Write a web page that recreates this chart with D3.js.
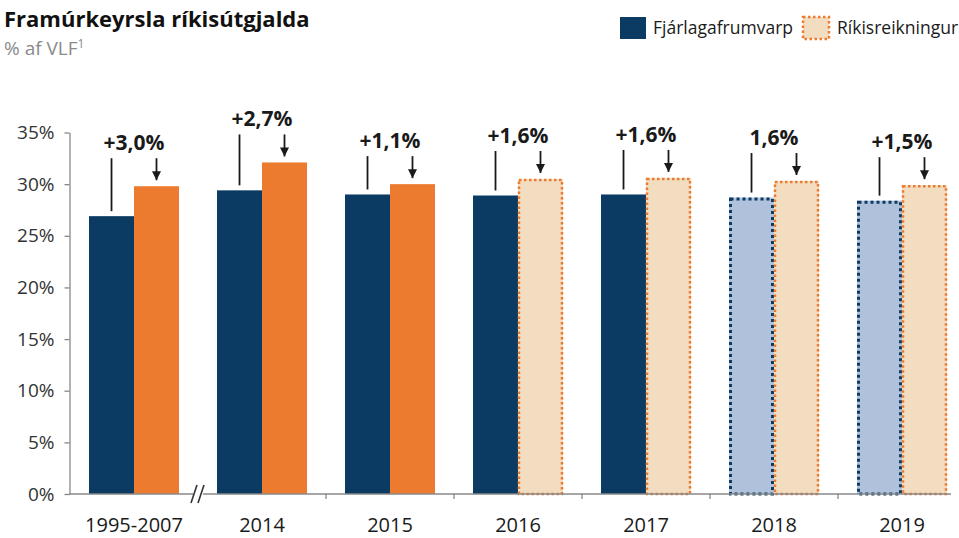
<!DOCTYPE html>
<html>
<head>
<meta charset="utf-8">
<script src="https://cdn.jsdelivr.net/npm/d3@7"></script>
<style>
  body { margin: 0; background: #fff; }
  svg { font-family: "Open Sans", sans-serif; }
</style>
</head>
<body>
<div id="chart"></div>
<script>
// data
var categories = ["1995-2007", "2014", "2015", "2016", "2017", "2018", "2019"];
var budget = [26.9, 29.4, 29.0, 28.9, 29.0, 28.7, 28.4];   // Fjárlagafrumvarp
var actual = [29.8, 32.1, 30.0, 30.5, 30.6, 30.3, 29.9];   // Ríkisreikningur
var budgetFinal = [true, true, true, true, true, false, false];
var actualFinal = [true, true, true, false, false, false, false];
var diffLabels = ["+3,0%", "+2,7%", "+1,1%", "+1,6%", "+1,6%", "1,6%", "+1,5%"];
var yTicks = [0, 5, 10, 15, 20, 25, 30, 35];

var svgWidth = 959;
var svgHeight = 538;

var navy = "#0b3b63";
var orange = "#ec7b2f";
var beige = "#f3ddc1";
var lightBlue = "#afc1db";

var svg = d3.select("#chart")
    .append("svg")
    .attr("width", svgWidth)
    .attr("height", svgHeight);

var rows = categories.map(function(c, i) {
    return { cat: c, budget: budget[i], actual: actual[i],
             budgetFinal: budgetFinal[i], actualFinal: actualFinal[i], label: diffLabels[i] };
});

var x = d3.scaleBand()
    .domain(categories)
    .range([70, 966])
    .paddingInner(0.297)
    .paddingOuter(0.1485);

var xSub = d3.scaleBand()
    .domain(["budget", "actual"])
    .range([0, x.bandwidth()]);

var y = d3.scaleLinear()
    .domain([0, 35])
    .range([494, 132.5]);

var gap = x.step() * x.paddingInner() / 2;

// y axis
var leftAxis = d3.axisLeft(y)
    .tickValues(yTicks)
    .tickFormat(function(d) { return d + "%"; })
    .tickSize(5)
    .tickSizeOuter(0)
    .tickPadding(10);

var yAxisG = svg.append("g")
    .attr("transform", "translate(69.5, 0)")
    .call(leftAxis);
yAxisG.select(".domain").attr("stroke", "#888").attr("stroke-width", 1.3);
yAxisG.selectAll(".tick line").attr("stroke", "#888").attr("stroke-width", 1.3);
yAxisG.selectAll(".tick text")
    .attr("fill", "#333")
    .attr("font-size", "19px")
    .attr("font-family", "Open Sans, sans-serif");

// bars
var groups = svg.selectAll(".grp")
    .data(rows)
    .enter()
    .append("g")
    .attr("class", "grp")
    .attr("transform", function(d) { return "translate(" + x(d.cat) + ",0)"; });

groups.append("rect")
    .attr("x", xSub("budget"))
    .attr("y", function(d) { return y(d.budget); })
    .attr("width", xSub.bandwidth())
    .attr("height", function(d) { return y(0) - y(d.budget); })
    .attr("fill", function(d) { return d.budgetFinal ? navy : lightBlue; });

groups.filter(function(d) { return !d.budgetFinal; })
    .append("rect")
    .attr("x", xSub("budget") + 1.5)
    .attr("y", function(d) { return y(d.budget) + 1.5; })
    .attr("width", xSub.bandwidth() - 3)
    .attr("height", function(d) { return y(0) - y(d.budget) - 1.5; })
    .attr("fill", "none")
    .attr("stroke", navy)
    .attr("stroke-width", 3)
    .attr("stroke-dasharray", "3,3");

groups.append("rect")
    .attr("x", xSub("actual"))
    .attr("y", function(d) { return y(d.actual); })
    .attr("width", xSub.bandwidth())
    .attr("height", function(d) { return y(0) - y(d.actual); })
    .attr("fill", function(d) { return d.actualFinal ? orange : beige; });

groups.filter(function(d) { return !d.actualFinal; })
    .append("rect")
    .attr("x", xSub("actual") + 1)
    .attr("y", function(d) { return y(d.actual) + 1; })
    .attr("width", xSub.bandwidth() - 2)
    .attr("height", function(d) { return y(0) - y(d.actual) - 1; })
    .attr("fill", "none")
    .attr("stroke", orange)
    .attr("stroke-width", 2.5)
    .attr("stroke-dasharray", "2.5,2.5");

// annotations
svg.append("defs").append("marker")
    .attr("id", "arrow")
    .attr("viewBox", "0 0 10 10")
    .attr("refX", 10)
    .attr("refY", 5)
    .attr("markerWidth", 10)
    .attr("markerHeight", 9)
    .attr("markerUnits", "userSpaceOnUse")
    .attr("orient", "auto")
    .append("path")
    .attr("d", "M0,0 L10,5 L0,10 Z")
    .attr("fill", "#1a1a1a");

var budgetMid = xSub("budget") + xSub.bandwidth() / 2;
var actualMid = xSub("actual") + xSub.bandwidth() / 2;

groups.append("line")
    .attr("x1", budgetMid)
    .attr("x2", budgetMid)
    .attr("y1", function(d) { return y(d.actual) - 28; })
    .attr("y2", function(d) { return y(d.budget) - 5; })
    .attr("stroke", "#1a1a1a")
    .attr("stroke-width", 1.8);

groups.append("line")
    .attr("x1", actualMid)
    .attr("x2", actualMid)
    .attr("y1", function(d) { return y(d.actual) - 28; })
    .attr("y2", function(d) { return y(d.actual) - 6; })
    .attr("stroke", "#1a1a1a")
    .attr("stroke-width", 1.8)
    .attr("marker-end", "url(#arrow)");

groups.append("text")
    .attr("x", x.bandwidth() / 2)
    .attr("y", function(d) { return y(d.actual) - 36; })
    .attr("text-anchor", "middle")
    .attr("font-size", "21px")
    .attr("font-weight", "bold")
    .attr("fill", "#1a1a1a")
    .text(function(d) { return d.label; });

// x axis
var bottomAxis = d3.axisBottom(x).tickSize(0).tickPadding(24);
var xAxisG = svg.append("g")
    .attr("transform", "translate(0, 494)")
    .call(bottomAxis);
xAxisG.select(".domain").remove();
xAxisG.selectAll(".tick text")
    .attr("fill", "#1a1a1a")
    .attr("font-size", "20px")
    .attr("font-family", "Open Sans, sans-serif");

xAxisG.append("line")
    .attr("x1", 69)
    .attr("x2", x(categories[6]) + x.bandwidth() + 4)
    .attr("stroke", "#888")
    .attr("stroke-width", 1.3);

xAxisG.selectAll(".sep")
    .data(categories.slice(2))
    .enter()
    .append("line")
    .attr("class", "sep")
    .attr("x1", function(d) { return x(d) - gap; })
    .attr("x2", function(d) { return x(d) - gap; })
    .attr("y1", 0)
    .attr("y2", 5)
    .attr("stroke", "#888")
    .attr("stroke-width", 1.3);

// axis break
var bx = x(categories[1]) - gap;
xAxisG.append("rect")
    .attr("x", bx - 5)
    .attr("y", -3)
    .attr("width", 10)
    .attr("height", 6)
    .attr("fill", "#fff");
[-4, 3].forEach(function(dx) {
    xAxisG.append("line")
        .attr("x1", bx + dx - 3)
        .attr("x2", bx + dx + 3)
        .attr("y1", 9)
        .attr("y2", -9)
        .attr("stroke", "#333")
        .attr("stroke-width", 1.6);
});

// title
svg.append("text")
    .attr("x", 4)
    .attr("y", 27)
    .attr("font-size", "22px")
    .attr("font-weight", "bold")
    .attr("fill", "#111")
    .text("Framúrkeyrsla ríkisútgjalda");

var sub = svg.append("text")
    .attr("x", 4)
    .attr("y", 55)
    .attr("font-size", "19px")
    .attr("fill", "#8a8a8a")
    .text("% af VLF");
sub.append("tspan")
    .attr("dy", -7)
    .attr("font-size", "12px")
    .text("1");

// legend
var legend = svg.append("g");
legend.append("rect")
    .attr("x", 620).attr("y", 17).attr("width", 26).attr("height", 22)
    .attr("fill", navy);
legend.append("text")
    .attr("x", 653).attr("y", 34)
    .attr("font-size", "17.5px").attr("fill", "#1a1a1a")
    .text("Fjárlagafrumvarp");
legend.append("rect")
    .attr("x", 803).attr("y", 17).attr("width", 26).attr("height", 22)
    .attr("fill", beige)
    .attr("stroke", orange)
    .attr("stroke-width", 2.5)
    .attr("stroke-dasharray", "2.5,2.5");
legend.append("text")
    .attr("x", 837).attr("y", 34)
    .attr("font-size", "17.5px").attr("fill", "#1a1a1a")
    .text("Ríkisreikningur");
</script>
</body>
</html>
